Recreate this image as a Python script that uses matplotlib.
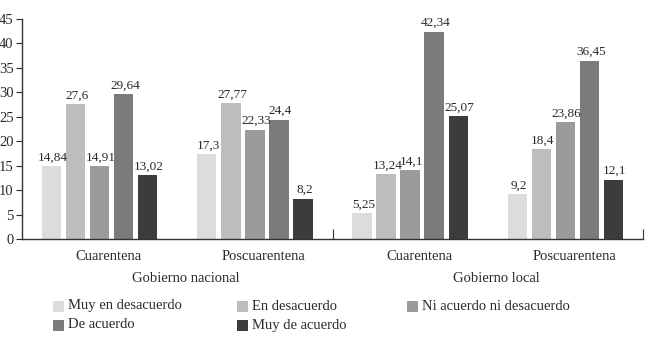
import matplotlib
matplotlib.use("Agg")
import matplotlib.pyplot as plt
import matplotlib.transforms as mtransforms
from matplotlib.patches import Rectangle
import numpy as np

plt.rcParams['font.family'] = ['Liberation Serif', 'DejaVu Serif']

periods = ["Cuarentena", "Poscuarentena", "Cuarentena", "Poscuarentena"]
governments = ["Gobierno nacional", "Gobierno local"]
series_names = ["Muy en desacuerdo", "En desacuerdo", "Ni acuerdo ni desacuerdo",
                "De acuerdo", "Muy de acuerdo"]
muy_en_desacuerdo = [14.84, 17.3, 5.25, 9.2]
en_desacuerdo = [27.6, 27.77, 13.24, 18.4]
ni_acuerdo = [14.91, 22.33, 14.1, 23.86]
de_acuerdo = [29.64, 24.4, 42.34, 36.45]
muy_de_acuerdo = [13.02, 8.2, 25.07, 12.1]
label_texts = [
    ["14,84", "17,3", "5,25", "9,2"],
    ["27,6", "27,77", "13,24", "18,4"],
    ["14,91", "22,33", "14,1", "23,86"],
    ["29,64", "24,4", "42,34", "36,45"],
    ["13,02", "8,2", "25,07", "12,1"],
]
yticks = [0, 5, 10, 15, 20, 25, 30, 35, 40, 45]

series = [muy_en_desacuerdo, en_desacuerdo, ni_acuerdo, de_acuerdo, muy_de_acuerdo]
colors = ["#dcdcdc", "#bdbdbd", "#9b9b9b", "#7b7b7b", "#3c3c3c"]

W, H = 650, 341
fig = plt.figure(figsize=(W / 100, H / 100), dpi=100)
ax = fig.add_axes([22 / W, 1 - 239 / H, (643 - 22) / W, (239 - 19) / H])

x = np.arange(len(periods))
step = 0.155
width = 0.125
txtcol = "#2a2a2a"
for i, (vals, c) in enumerate(zip(series, colors)):
    pos = x + (i - 2) * step
    ax.bar(pos, vals, width=width, color=c, edgecolor="none", zorder=2)
    for px, v, t in zip(pos, vals, label_texts[i]):
        ax.annotate(t, (px, v), xytext=(1, 2), textcoords="offset points",
                    ha="center", va="bottom", fontsize=9.5, color=txtcol)

ax.set_xlim(-0.5, 3.5)
ax.set_ylim(0, 45)
ax.set_yticks(yticks)
ax.tick_params(axis='y', direction='out', length=4, labelsize=10.5,
               colors=txtcol, pad=2, width=0.8)
for s in ["top", "right"]:
    ax.spines[s].set_visible(False)
for s in ["left", "bottom"]:
    ax.spines[s].set_color("#333333")
    ax.spines[s].set_linewidth(1.0)

ax.set_xticks([1.5, 3.5])
ax.set_xticklabels(["", ""])
ax.tick_params(axis='x', direction='in', length=7, width=0.8, colors="#333333")

offset = mtransforms.ScaledTranslation(9 / 100, 0, fig.dpi_scale_trans)
trans = mtransforms.blended_transform_factory(ax.transData, fig.transFigure) + offset
for xi, p in zip(x, periods):
    ax.text(xi, 1 - 256 / H, p, transform=trans, ha="center", va="center",
            fontsize=10.5, color=txtcol)
for gi, g in enumerate(governments):
    ax.text(2 * gi + 0.5, 1 - 278 / H, g, transform=trans, ha="center",
            va="center", fontsize=10.5, color=txtcol)

# legend laid out in a 3-column grid
col_x = [53, 237, 407]
row_y = [306, 325]
order = [(0, 0), (0, 1), (0, 2), (1, 0), (1, 1)]
sq = 11
for (r, ccol), name, c in zip(order, series_names, colors):
    x0 = col_x[ccol]
    y0 = row_y[r]
    fig.add_artist(Rectangle((x0 / W, 1 - (y0 + sq / 2) / H), sq / W, sq / H,
                             transform=fig.transFigure, color=c, lw=0))
    fig.text((x0 + sq + 4) / W, 1 - y0 / H, name, ha="left", va="center",
             fontsize=10.5, color=txtcol)

fig.savefig("out.png", dpi=100)
